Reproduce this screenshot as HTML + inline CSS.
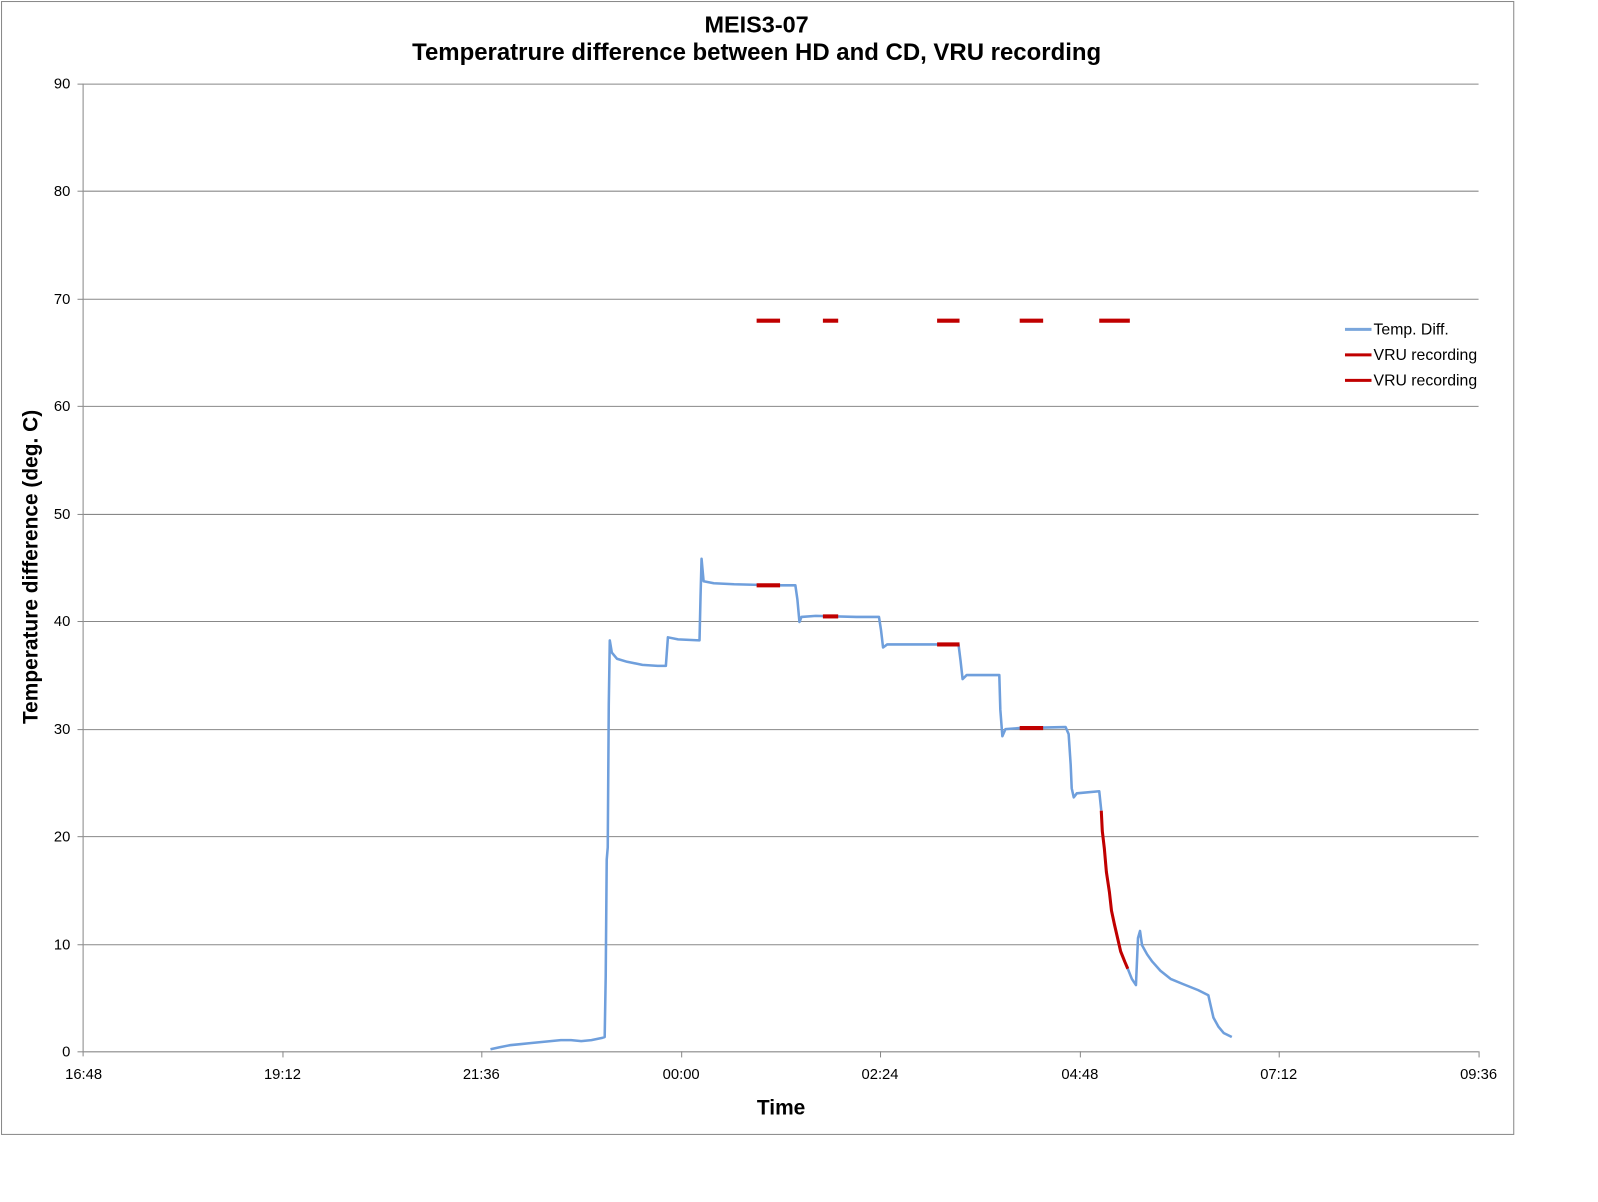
<!DOCTYPE html>
<html><head><meta charset="utf-8"><style>
body{margin:0;background:#fff;}
svg{display:block;font-family:"Liberation Sans",Arial,sans-serif;}
</style></head><body>
<svg width="1598" height="1202" viewBox="0 0 1598 1202" xmlns="http://www.w3.org/2000/svg">
<g transform="scale(1.0197)">
<rect x="1.5" y="1.5" width="1483" height="1111" fill="#fff" stroke="#888" stroke-width="1"/>
<g stroke="#888" stroke-width="1">
<line x1="82" y1="82.5" x2="1450" y2="82.5"/>
<line x1="82" y1="187.5" x2="1450" y2="187.5"/>
<line x1="82" y1="293.5" x2="1450" y2="293.5"/>
<line x1="82" y1="398.5" x2="1450" y2="398.5"/>
<line x1="82" y1="504.5" x2="1450" y2="504.5"/>
<line x1="82" y1="609.5" x2="1450" y2="609.5"/>
<line x1="82" y1="715.5" x2="1450" y2="715.5"/>
<line x1="82" y1="820.5" x2="1450" y2="820.5"/>
<line x1="82" y1="926.5" x2="1450" y2="926.5"/>
<line x1="82" y1="1031.5" x2="1450" y2="1031.5"/>
<line x1="81.5" y1="82" x2="81.5" y2="1036"/>
<line x1="76" y1="82.5" x2="82" y2="82.5"/><line x1="76" y1="187.5" x2="82" y2="187.5"/><line x1="76" y1="293.5" x2="82" y2="293.5"/><line x1="76" y1="398.5" x2="82" y2="398.5"/><line x1="76" y1="504.5" x2="82" y2="504.5"/><line x1="76" y1="609.5" x2="82" y2="609.5"/><line x1="76" y1="715.5" x2="82" y2="715.5"/><line x1="76" y1="820.5" x2="82" y2="820.5"/><line x1="76" y1="926.5" x2="82" y2="926.5"/><line x1="76" y1="1031.5" x2="82" y2="1031.5"/>
<line x1="277.5" y1="1031" x2="277.5" y2="1037"/><line x1="472.5" y1="1031" x2="472.5" y2="1037"/><line x1="668.5" y1="1031" x2="668.5" y2="1037"/><line x1="863.5" y1="1031" x2="863.5" y2="1037"/><line x1="1059.5" y1="1031" x2="1059.5" y2="1037"/><line x1="1254.5" y1="1031" x2="1254.5" y2="1037"/><line x1="1450.5" y1="1031" x2="1450.5" y2="1037"/>
</g>
<g font-size="14.5" fill="#000" text-anchor="end">
<text x="69" y="87">90</text><text x="69" y="192">80</text><text x="69" y="298">70</text><text x="69" y="403">60</text><text x="69" y="509">50</text><text x="69" y="614">40</text><text x="69" y="720">30</text><text x="69" y="825">20</text><text x="69" y="931">10</text><text x="69" y="1036">0</text>
</g>
<g font-size="14.5" fill="#000" text-anchor="middle">
<text x="82" y="1058">16:48</text><text x="277" y="1058">19:12</text><text x="472" y="1058">21:36</text><text x="668" y="1058">00:00</text><text x="863" y="1058">02:24</text><text x="1059" y="1058">04:48</text><text x="1254" y="1058">07:12</text><text x="1450" y="1058">09:36</text>
</g>
<g font-weight="bold" text-anchor="middle" fill="#000">
<text x="742" y="32" font-size="23">MEIS3-07</text>
<text x="742" y="59" font-size="23.5">Temperatrure difference between HD and CD, VRU recording</text>
<text x="766" y="1093" font-size="20.5">Time</text>
<text transform="translate(37,556) rotate(-90)" font-size="20.5">Temperature difference (deg. C)</text>
</g>
<polyline fill="none" stroke="#6f9fdc" stroke-width="2.5" stroke-linejoin="round" points="481,1029 490,1027 500,1025 510,1024 520,1023 530,1022 540,1021 550,1020 560,1020 570,1021 580,1020 590,1018 593,1017 594,958 595,843 596,831 597,692 598,628 600,640 605,646 615,649 630,652 645,653 653,653 655,625 665,627 686,628 687,585 688,548 690,570 700,572 720,573 760,574 780,574 782,588 784,610 786,605 800,604 840,605 862,605 864,618 866,635 870,632 900,632 940,632 942,648 944,666 948,662 980,662 981,696 983,722 986,715 1000,714 1045,713 1048,720 1050,750 1051,773 1053,782 1056,778 1078,776 1080,795"/>
<polyline fill="none" stroke="#6f9fdc" stroke-width="2.5" stroke-linejoin="round" points="1106,950 1110,960 1114,966 1116,920 1118,913 1120,927 1125,936 1130,943 1138,952 1148,960 1160,965 1175,971 1185,976 1187,985 1190,998 1195,1007 1200,1013 1208,1017"/>
<polyline fill="none" stroke="#c00000" stroke-width="3" stroke-linejoin="round" points="1080,795 1081,815 1083,832 1085,855 1088,875 1090,893 1093,907 1096,920 1099,933 1103,943 1106,950"/>
<g stroke="#c00000" stroke-width="4">
<line x1="742" y1="314.5" x2="765" y2="314.5"/><line x1="807" y1="314.5" x2="822" y2="314.5"/><line x1="919" y1="314.5" x2="941" y2="314.5"/><line x1="1000" y1="314.5" x2="1023" y2="314.5"/><line x1="1078" y1="314.5" x2="1108" y2="314.5"/>
<line x1="742" y1="574" x2="765" y2="574"/><line x1="807" y1="604.5" x2="822" y2="604.5"/><line x1="919" y1="632" x2="941" y2="632"/><line x1="1000" y1="714" x2="1023" y2="714"/>
</g>
<line x1="1319" y1="323" x2="1345" y2="323" stroke="#7aa6dc" stroke-width="3"/>
<line x1="1319" y1="348" x2="1345" y2="348" stroke="#c00000" stroke-width="3"/>
<line x1="1319" y1="373" x2="1345" y2="373" stroke="#c00000" stroke-width="3"/>
<g font-size="15.5" fill="#000">
<text x="1347" y="328">Temp. Diff.</text>
<text x="1347" y="353">VRU recording</text>
<text x="1347" y="378">VRU recording</text>
</g>
</g>
</svg>
</body></html>
